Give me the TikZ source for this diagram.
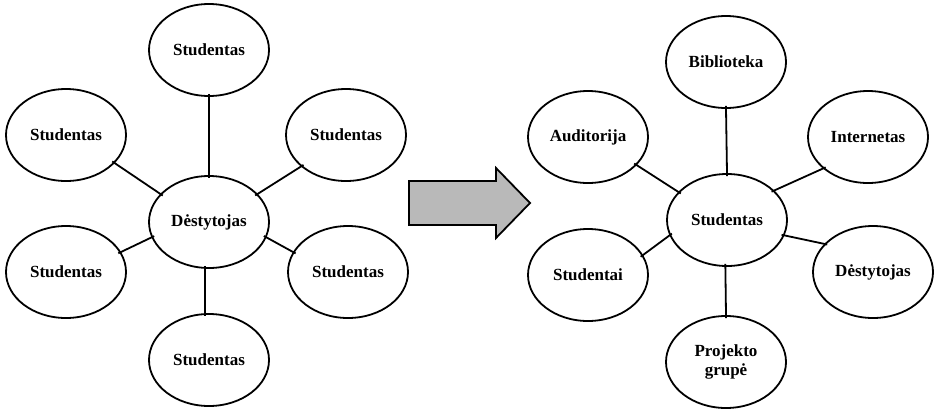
\documentclass[tikz,border=0pt]{standalone}
\usepackage{fontspec}
\setmainfont{Liberation Serif}
\usetikzlibrary{shapes.geometric}
\begin{document}
\begin{tikzpicture}[x=1pt,y=-1pt,
  bub/.style={ellipse,draw,line width=1.8pt,minimum width=120pt,minimum height=92pt,inner sep=0pt,align=center,font=\fontsize{17}{19}\selectfont\bfseries},
  link/.style={line width=1.8pt,shorten <=-3pt,shorten >=-3pt}]
\useasboundingbox (0,0) rectangle (941,413);
% left diagram
\node[bub] (c) at (209,222) {Dėstytojas};
\node[bub] (t) at (209,50) {Studentas};
\node[bub] (lu) at (66,135) {Studentas};
\node[bub] (ru) at (346,135) {Studentas};
\node[bub] (ll) at (66,272) {Studentas};
\node[bub] (rl) at (348,272) {Studentas};
\node[bub] (b) at (209,360) {Studentas};
\draw[link] (t.south) -- (c.north);
\draw[link] (c.-95) -- (b.95);
\draw[link] (lu.-30) -- (c.150);
\draw[link] (ru.-145) -- (c.30);
\draw[link] (ll.20) -- (c.-165);
\draw[link] (rl.160) -- (c.-15);
% arrow
\draw[line width=1.8pt,fill=gray!55] (409,181) -- (496,181) -- (496,168) -- (530,203) -- (496,238) -- (496,225) -- (409,225) -- cycle;
% right diagram
\node[bub] (s) at (727,220) {Studentas};
\node[bub] (bi) at (726,62) {Biblioteka};
\node[bub] (au) at (588,137) {Auditorija};
\node[bub] (in) at (868,137) {Internetas};
\node[bub] (st) at (588,275) {Studentai};
\node[bub] (de) at (873,272) {Dėstytojas};
\node[bub] (pg) at (726,362) {Projekto\\grupė};
\draw[link] (bi.south) -- (s.north);
\draw[link] (s.-92) -- (pg.north);
\draw[link] (au.-30) -- (s.150);
\draw[link] (in.-145) -- (s.32);
\draw[link] (st.20) -- (s.-165);
\draw[link] (de.150) -- (s.-15);
\end{tikzpicture}
\end{document}
